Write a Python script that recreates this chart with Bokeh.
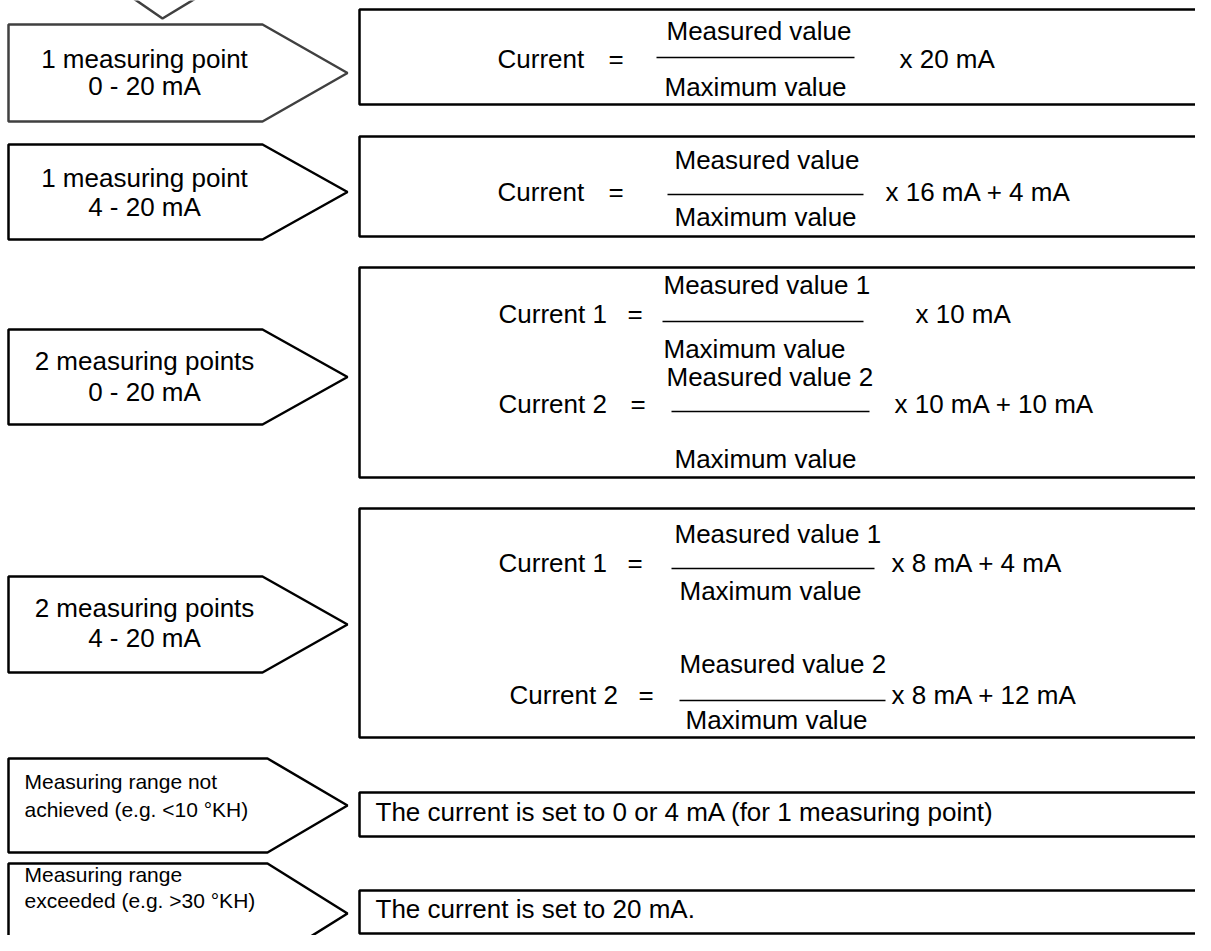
from bokeh.plotting import figure
from bokeh.models import Range1d, ColumnDataSource
from bokeh.embed import file_html
from bokeh.resources import INLINE
from bokeh.core.properties import value

# ---------------- data: texts ----------------
input_line1 = ["1 measuring point", "1 measuring point", "2 measuring points", "2 measuring points"]
input_line2 = ["0 - 20 mA", "4 - 20 mA", "0 - 20 mA", "4 - 20 mA"]
limit_line1 = ["Measuring range not", "Measuring range"]
limit_line2 = ["achieved (e.g. <10 °KH)", "exceeded (e.g. >30 °KH)"]
formula_lhs = ["Current", "Current", "Current 1", "Current 2", "Current 1", "Current 2"]
formula_eq = ["="] * 6
formula_num = ["Measured value", "Measured value", "Measured value 1", "Measured value 2",
               "Measured value 1", "Measured value 2"]
formula_den = ["Maximum value"] * 6
formula_rhs = ["x 20 mA", "x 16 mA + 4 mA", "x 10 mA", "x 10 mA + 10 mA",
               "x 8 mA + 4 mA", "x 8 mA + 12 mA"]
limit_result = ["The current is set to 0 or 4 mA (for 1 measuring point)",
                "The current is set to 20 mA."]

# ---------------- layout (pixel coordinates of the diagram) ----------------
pent_top = [24, 144, 329, 576]
pent_bot = [121, 239, 424, 672]
pent_left, pent_shoulder, pent_tip = 8, 262, 347
pent_colors = ["#404040", "black", "black", "black"]
pent_l1_y = [58, 177, 360, 607]
pent_l2_y = [85, 206, 391, 637]

lim_top = [758, 863]
lim_bot = [852, 963]
lim_shoulder = 267
lim_l1_y = [781, 874]
lim_l2_y = [809, 900]

fbox_top = [9, 136, 267, 508]
fbox_bot = [104, 236, 477, 737]
rbox_top = [792, 890]
rbox_bot = [836, 933]
box_left, box_right = 359, 1216

row_y = [58, 191, 313, 403, 562, 694]
lhs_x = [497, 497, 498, 498, 498, 509]
eq_x = [608, 608, 627, 630, 627, 638]
bar_x0 = [656, 667, 662, 671, 671, 679]
bar_x1 = [854, 863, 863, 869, 874, 885]
bar_y = [57, 194, 321, 411, 568, 700]
num_x = [666, 674, 663, 666, 674, 679]
num_y = [30, 159, 284, 376, 533, 663]
den_x = [664, 674, 663, 674, 679, 685]
den_y = [86, 216, 348, 458, 590, 719]
rhs_x = [899, 885, 915, 894, 891, 891]
res_y = [811, 908]

FONT = value("Liberation Sans")

p = figure(width=1195, height=935, x_range=Range1d(0, 1195), y_range=Range1d(935, 0),
           output_backend="svg", toolbar_location=None, min_border=0,
           x_axis_location=None, y_axis_location=None)
p.grid.visible = False
p.outline_line_color = None
p.background_fill_color = "white"
p.border_fill_color = "white"

# top arrow fragment
p.line(x=[133, 162, 195], y=[-2, 18, -2], line_color="#404040", line_width=2.5)

# input pentagons
xs, ys = [], []
for t, b in zip(pent_top, pent_bot):
    m = (t + b) / 2
    xs.append([pent_left, pent_shoulder, pent_tip, pent_shoulder, pent_left])
    ys.append([t, t, m, b, b])
p.patches(xs=xs, ys=ys, fill_color="white", line_color=pent_colors, line_width=2.5)

xs, ys = [], []
for t, b in zip(lim_top, lim_bot):
    m = (t + b) / 2
    xs.append([pent_left, lim_shoulder, pent_tip, lim_shoulder, pent_left])
    ys.append([t, t, m, b, b])
p.patches(xs=xs, ys=ys, fill_color="white", line_color="black", line_width=2.5)

# formula boxes and result boxes
p.quad(left=box_left, right=box_right, top=fbox_top, bottom=fbox_bot,
       fill_color="white", line_color="black", line_width=2.5)
p.quad(left=box_left, right=box_right, top=rbox_top, bottom=rbox_bot,
       fill_color="white", line_color="black", line_width=2.5)

# fraction bars
p.segment(x0=bar_x0, x1=bar_x1, y0=bar_y, y1=bar_y, line_color="black", line_width=1.6)

# input labels
src = ColumnDataSource(dict(x=[144] * 8, y=pent_l1_y + pent_l2_y, t=input_line1 + input_line2))
p.text(x="x", y="y", text="t", source=src, text_align="center", text_baseline="alphabetic",
       text_font=FONT, text_font_size="26px", text_color="black")

src = ColumnDataSource(dict(x=[24] * 4, y=lim_l1_y + lim_l2_y, t=limit_line1 + limit_line2))
p.text(x="x", y="y", text="t", source=src, text_align="left", text_baseline="alphabetic",
       text_font=FONT, text_font_size="21px", text_color="black")

# formula texts
fx = lhs_x + eq_x + num_x + den_x + rhs_x
fy = row_y + row_y + num_y + den_y + row_y
ft = formula_lhs + formula_eq + formula_num + formula_den + formula_rhs
src = ColumnDataSource(dict(x=fx, y=fy, t=ft))
p.text(x="x", y="y", text="t", source=src, text_align="left", text_baseline="alphabetic",
       text_font=FONT, text_font_size="26px", text_color="black")

src = ColumnDataSource(dict(x=[375, 375], y=res_y, t=limit_result))
p.text(x="x", y="y", text="t", source=src, text_align="left", text_baseline="alphabetic",
       text_font=FONT, text_font_size="26px", text_color="black")

open("out.html", "w").write(file_html(p, INLINE))
